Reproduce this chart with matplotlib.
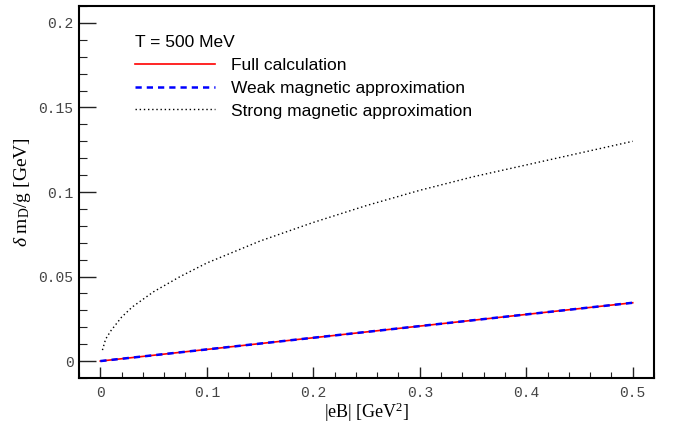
import numpy as np
import matplotlib
matplotlib.use("Agg")
import matplotlib.pyplot as plt
from matplotlib.ticker import MultipleLocator, FixedFormatter, FixedLocator

# valori
eB_lin = [0.0, 0.1, 0.2, 0.3, 0.4, 0.5]
full_calc = [0.0, 0.0069, 0.0138, 0.0207, 0.0276, 0.0345]
weak_approx = [0.0, 0.0069, 0.0138, 0.0207, 0.0276, 0.0345]

eB_strong = [0.002, 0.005, 0.01, 0.02, 0.03, 0.05, 0.075, 0.1, 0.15, 0.2,
             0.25, 0.3, 0.35, 0.4, 0.45, 0.5]
strong_approx = [0.0065, 0.013, 0.018, 0.026, 0.032, 0.041, 0.050, 0.058,
                 0.071, 0.082, 0.092, 0.101, 0.109, 0.116, 0.123, 0.130]

xticks = [0, 0.1, 0.2, 0.3, 0.4, 0.5]
xtick_labels = ["0", "0.1", "0.2", "0.3", "0.4", "0.5"]
yticks = [0, 0.05, 0.1, 0.15, 0.2]
ytick_labels = ["0", "0.05", "0.1", "0.15", "0.2"]

plt.rcParams['mathtext.fontset'] = 'custom'
plt.rcParams['mathtext.rm'] = 'Liberation Serif'
plt.rcParams['mathtext.it'] = 'Liberation Serif:italic'

fig = plt.figure(figsize=(6.73, 4.24), dpi=100)
ax = fig.add_axes([0.1174, 0.1085, 0.8544, 0.8773])

ax.plot(eB_lin, full_calc, color='red', lw=1.2, label="Full calculation")
ax.plot(eB_lin, weak_approx, color='blue', lw=1.8, ls=(0, (2.5, 2)), label="Weak magnetic approximation")
ax.plot(eB_strong, strong_approx, color='black', lw=1.0, ls=(0, (1, 2)), label="Strong magnetic approximation")

ax.set_xlim(-0.02, 0.52)
ax.set_ylim(-0.01, 0.21)

ax.xaxis.set_major_locator(FixedLocator(xticks))
ax.xaxis.set_major_formatter(FixedFormatter(xtick_labels))
ax.xaxis.set_minor_locator(MultipleLocator(0.02))
ax.yaxis.set_major_locator(FixedLocator(yticks))
ax.yaxis.set_major_formatter(FixedFormatter(ytick_labels))
ax.yaxis.set_minor_locator(MultipleLocator(0.01))

ax.tick_params(axis='both', which='both', direction='in', top=False, right=False,
               labelsize=10.5, labelcolor='#444444', color='#222222')
ax.tick_params(axis='x', which='major', length=8, width=1.0, pad=6)
ax.tick_params(axis='x', which='minor', length=4, width=0.8)
ax.tick_params(axis='y', which='major', length=12, width=1.0, pad=4)
ax.tick_params(axis='y', which='minor', length=6, width=0.8)
for lab in ax.get_xticklabels() + ax.get_yticklabels():
    lab.set_family('Liberation Mono')

for sp in ax.spines.values():
    sp.set_linewidth(1.5)

ax.set_xlabel(r"|eB| [GeV$^2$]", family='Liberation Serif', fontsize=13, labelpad=0)
ax.set_ylabel(r"$\delta$ m$_\mathrm{D}$/g [GeV]", family='Liberation Serif', fontsize=14, labelpad=4)

leg = ax.legend(loc='upper left', bbox_to_anchor=(0.07, 0.965), frameon=False,
                title="T = 500 MeV", prop={'family': 'Liberation Sans', 'size': 12.5},
                title_fontproperties={'family': 'Liberation Sans', 'size': 12.5},
                handlelength=4.6, handletextpad=0.95, labelspacing=0.45,
                alignment='left')

fig.savefig("out.png", dpi=100)
